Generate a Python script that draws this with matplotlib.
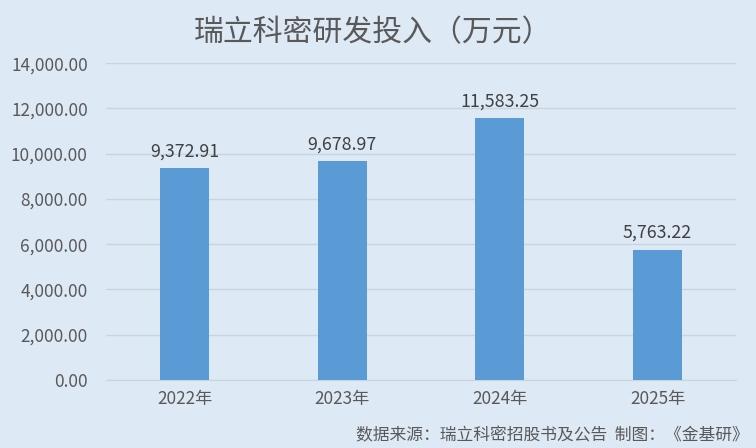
import matplotlib
matplotlib.use("Agg")
import matplotlib.pyplot as plt
from matplotlib.ticker import FuncFormatter

plt.rcParams['font.family'] = ['Noto Sans CJK SC', 'DejaVu Sans']

years = ['2022年', '2023年', '2024年', '2025年']
spend = [9372.91, 9678.97, 11583.25, 5763.22]
y_ticks = [0, 2000, 4000, 6000, 8000, 10000, 12000, 14000]

bg = '#dde9f5'
fig = plt.figure(figsize=(7.56, 4.48), dpi=100, facecolor=bg)
ax = fig.add_axes([0.140, 0.152, 0.834, 0.707], facecolor=bg)

x = range(len(years))
bars = ax.bar(x, spend, width=0.31, color='#5b9bd5', zorder=3)
for b, v in zip(bars, spend):
    ax.text(b.get_x() + b.get_width() / 2, v + 330, f'{v:,.2f}',
            ha='center', va='bottom', fontsize=12.8, color='#404040')

ax.set_xlim(-0.5, len(years) - 0.5)
ax.set_ylim(0, 14000)
ax.set_yticks(y_ticks)
ax.yaxis.set_major_formatter(FuncFormatter(lambda v, p: f'{v:,.2f}'))
ax.set_xticks(list(x))
ax.set_xticklabels(years)
ax.tick_params(axis='both', length=0, labelsize=12.4, colors='#595959')
ax.tick_params(axis='y', pad=13)
ax.tick_params(axis='x', pad=7)
ax.grid(axis='y', color='#c8d4e0', linewidth=1, zorder=0)
for s in ['top', 'right', 'left']:
    ax.spines[s].set_visible(False)
ax.spines['bottom'].set_color('#c8d4e0')

fig.text(0.493, 0.928, '瑞立科密研发投入（万元）', ha='center', va='center',
         fontsize=21.5, color='#595959')
fig.text(0.99, 0.008, '数据来源：瑞立科密招股书及公告  制图：《金基研》',
         ha='right', va='bottom', fontsize=12.1, color='#595959')

fig.savefig('out.png', dpi=100, facecolor=bg)
